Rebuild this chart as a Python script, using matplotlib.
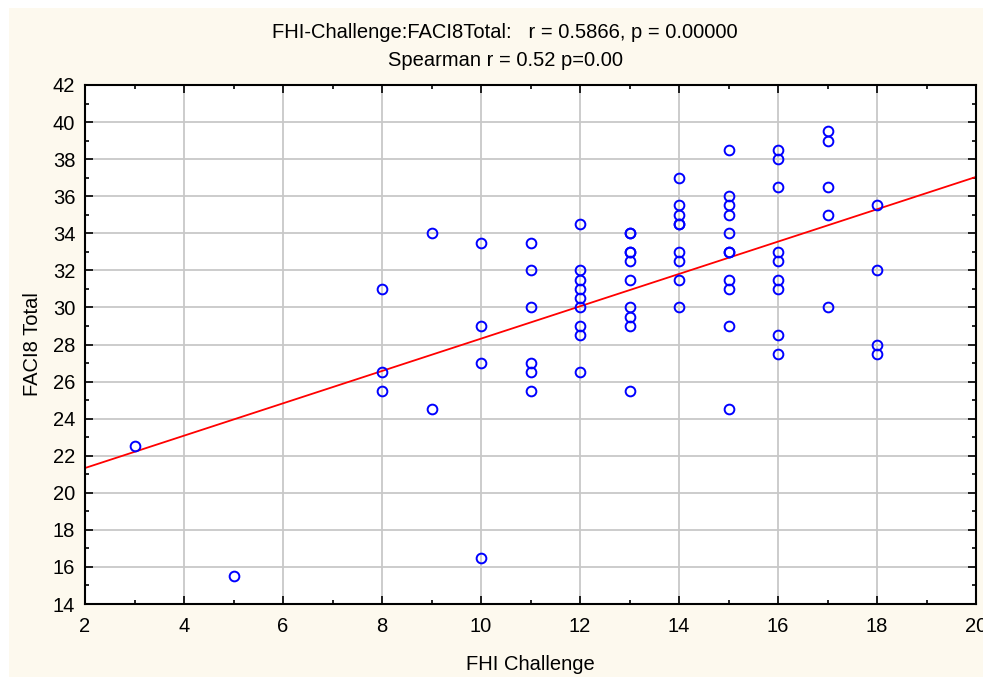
import numpy as np
import matplotlib
matplotlib.use("Agg")
import matplotlib.pyplot as plt
from matplotlib.ticker import MultipleLocator

plt.rcParams['font.family'] = ['Liberation Sans', 'DejaVu Sans']

# FHI Challenge score per subject, grouped by score
fhi_challenge = (
    [3, 5]
    + [8] * 3
    + [9] * 2
    + [10] * 4
    + [11] * 6
    + [12] * 9
    + [13] * 10
    + [14] * 9
    + [15] * 11
    + [16] * 9
    + [17] * 5
    + [18] * 4
)
# FACI8 Total per subject, same order
faci8_total = (
    [22.5, 15.5]
    + [31, 26.5, 25.5]
    + [34, 24.5]
    + [33.5, 29, 27, 16.5]
    + [33.5, 32, 30, 27, 26.5, 25.5]
    + [34.5, 32, 31.5, 31, 30.5, 30, 29, 28.5, 26.5]
    + [34, 34, 33, 32.5, 31.5, 30, 29.5, 29, 25.5, 33]
    + [37, 35.5, 35, 34.5, 33, 32.5, 31.5, 30, 34.5]
    + [38.5, 36, 35.5, 35, 34, 33, 31.5, 31, 29, 24.5, 33]
    + [38.5, 38, 36.5, 33, 32.5, 31.5, 31, 28.5, 27.5]
    + [39.5, 39, 36.5, 35, 30]
    + [35.5, 32, 28, 27.5]
)

title_lines = [
    "FHI-Challenge:FACI8Total:   r = 0.5866, p = 0.00000",
    "Spearman r = 0.52 p=0.00",
]
x_label = "FHI Challenge"
y_label = "FACI8 Total"

x = np.array(fhi_challenge, dtype=float)
y = np.array(faci8_total, dtype=float)

bg = "#FDF9EE"
fig = plt.figure(figsize=(9.83, 6.77), dpi=100, facecolor="white")
# cream panel behind the chart
fig.patches.append(plt.Rectangle((9 / 983, 0), 1, 1 - 8 / 677,
                                 transform=fig.transFigure, facecolor=bg,
                                 edgecolor="none", zorder=-10))

ax = fig.add_axes([85 / 983, 1 - 604 / 677, (976 - 85) / 983, (604 - 85) / 677])
ax.set_facecolor("white")
ax.set_xlim(2, 20)
ax.set_ylim(14, 42)

ax.xaxis.set_major_locator(MultipleLocator(2))
ax.xaxis.set_minor_locator(MultipleLocator(1))
ax.yaxis.set_major_locator(MultipleLocator(2))
ax.yaxis.set_minor_locator(MultipleLocator(1))
ax.tick_params(which="both", direction="in", top=True, right=True,
               labeltop=False, labelright=False, width=1.2, color="black")
ax.tick_params(which="major", length=6, labelsize=14.5)
ax.tick_params(axis="x", which="major", pad=9)
ax.tick_params(axis="y", which="major", pad=7)
ax.tick_params(which="minor", length=3)
for s in ax.spines.values():
    s.set_linewidth(1.5)
    s.set_color("black")

ax.grid(True, which="major", color="#C8C8C8", linewidth=1.3)
ax.set_axisbelow(True)

# least-squares line over the full x range
slope, intercept = np.polyfit(x, y, 1)
xl = np.array(ax.get_xlim())
ax.plot(xl, intercept + slope * xl, color="#FF0000", linewidth=1.3, zorder=2)

ax.plot(x, y, linestyle="none", marker="o", markersize=7,
        markerfacecolor="none", markeredgecolor="#0000FF",
        markeredgewidth=1.4, zorder=3, clip_on=False)

fig.text(0.514, 1 - 33 / 677, title_lines[0], ha="center", va="center", fontsize=14.5)
fig.text(0.514, 1 - 60 / 677, title_lines[1], ha="center", va="center", fontsize=14.5)
ax.set_xlabel(x_label, fontsize=14.5, labelpad=14)
ax.set_ylabel(y_label, fontsize=14.5, labelpad=8)

fig.savefig("out.png", dpi=100, facecolor="white")
